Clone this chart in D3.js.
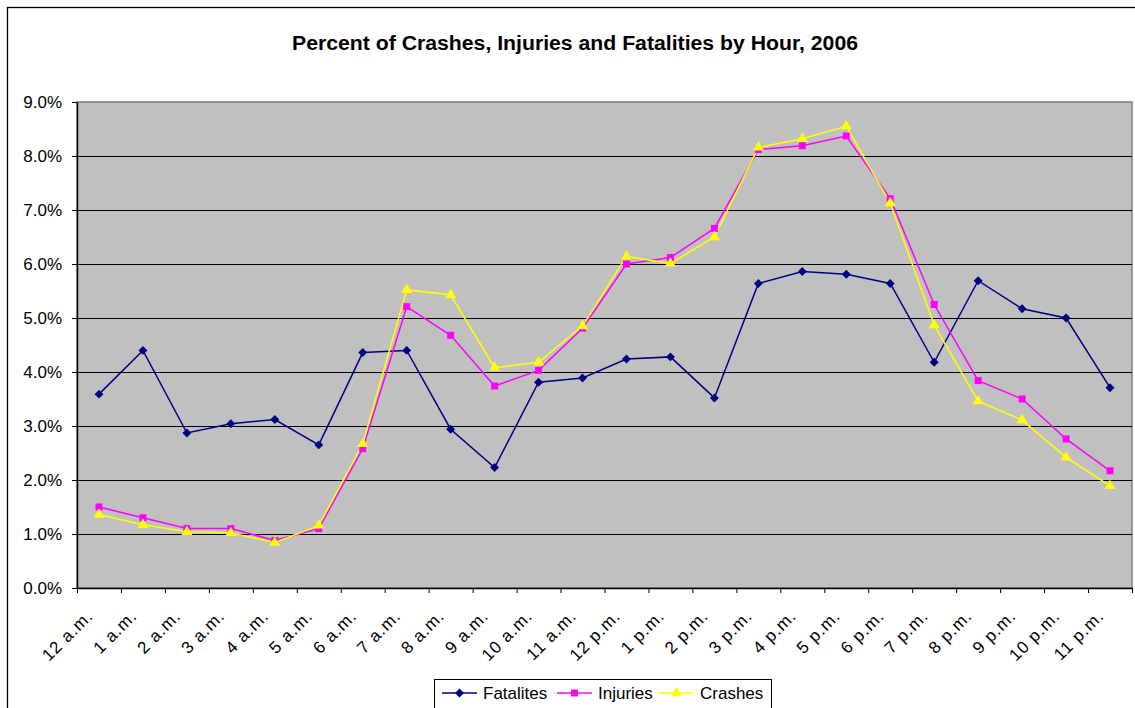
<!DOCTYPE html>
<html>
<head>
<meta charset="utf-8">
<script src="https://cdn.jsdelivr.net/npm/d3@7"></script>
<style>
  body { margin: 0; background: #fff; }
  svg { display: block; font-family: "Liberation Sans", Arial, sans-serif; }
</style>
</head>
<body>
<svg class="chart"></svg>
<script>
// Data (percent of daily total per hour)
var hours = ["12 a.m.", "1 a.m.", "2 a.m.", "3 a.m.", "4 a.m.", "5 a.m.", "6 a.m.", "7 a.m.",
             "8 a.m.", "9 a.m.", "10 a.m.", "11 a.m.", "12 p.m.", "1 p.m.", "2 p.m.", "3 p.m.",
             "4 p.m.", "5 p.m.", "6 p.m.", "7 p.m.", "8 p.m.", "9 p.m.", "10 p.m.", "11 p.m."];

var fatalities = [3.59, 4.40, 2.87, 3.04, 3.12, 2.65, 4.36, 4.40, 2.94, 2.23, 3.81, 3.89,
                  4.24, 4.28, 3.52, 5.64, 5.86, 5.81, 5.64, 4.18, 5.69, 5.17, 5.00, 3.71];
var injuries   = [1.50, 1.30, 1.10, 1.10, 0.88, 1.10, 2.58, 5.21, 4.68, 3.74, 4.03, 4.81,
                  6.00, 6.12, 6.66, 8.12, 8.19, 8.37, 7.21, 5.25, 3.84, 3.50, 2.76, 2.17];
var crashes    = [1.36, 1.17, 1.04, 1.02, 0.84, 1.16, 2.67, 5.52, 5.43, 4.08, 4.18, 4.85,
                  6.14, 6.01, 6.50, 8.16, 8.32, 8.55, 7.13, 4.87, 3.46, 3.11, 2.42, 1.89];

var yTicks = [0, 1, 2, 3, 4, 5, 6, 7, 8, 9];

var seriesNames = ["Fatalites", "Injuries", "Crashes"];

// diamond = square turned 45 degrees
var series = [
    { label: seriesNames[0], values: fatalities, color: "#000080", marker: d3.symbolSquare,  size: 40, rot: 45 },
    { label: seriesNames[1], values: injuries,   color: "#FF00FF", marker: d3.symbolSquare,  size: 49, rot: 0 },
    { label: seriesNames[2], values: crashes,    color: "#FFFF00", marker: d3.symbolTriangle, size: 52, rot: 0 }
];

var width = 1135, height = 708;
var plotLeft = 77, plotRight = 1132, plotTop = 102, plotBottom = 588;

var chart = d3.select(".chart")
    .attr("width", width)
    .attr("height", height);

// Chart area border (right and bottom fall outside the picture)
chart.append("rect")
    .attr("x", 7.5).attr("y", 7.5)
    .attr("width", width).attr("height", height)
    .attr("fill", "#fff")
    .attr("stroke", "#000")
    .attr("stroke-width", 1.3);

// Title
chart.append("text")
    .attr("x", 575)
    .attr("y", 50)
    .attr("text-anchor", "middle")
    .attr("textLength", 566)
    .attr("lengthAdjust", "spacingAndGlyphs")
    .style("font-size", "20px")
    .style("font-weight", "bold")
    .text("Percent of Crashes, Injuries and Fatalities by Hour, 2006");

var x = d3.scaleBand()
    .domain(hours)
    .range([plotLeft, plotRight]);

var xEdge = d3.scaleLinear()
    .domain([0, hours.length])
    .range([plotLeft, plotRight]);

var y = d3.scaleLinear()
    .domain([0, 9])
    .range([plotBottom, plotTop]);

// Plot area
chart.append("rect")
    .attr("x", plotLeft)
    .attr("y", plotTop)
    .attr("width", plotRight - plotLeft)
    .attr("height", plotBottom - plotTop)
    .attr("fill", "#C0C0C0")
    .attr("stroke", "#808080")
    .attr("stroke-width", 1.5);

// Gridlines
chart.append("g")
    .attr("class", "grid")
    .attr("transform", "translate(" + plotLeft + ",0)")
    .call(d3.axisLeft(y)
        .tickValues(yTicks.slice(1, yTicks.length - 1))
        .tickSize(-(plotRight - plotLeft))
        .tickFormat(""))
    .call(function(g) { g.select(".domain").remove(); })
    .selectAll("line")
    .attr("stroke", "#000")
    .attr("stroke-width", 1);

// Y axis
var yAxisG = chart.append("g")
    .attr("class", "y axis")
    .attr("transform", "translate(" + plotLeft + ",0)")
    .call(d3.axisLeft(y)
        .tickValues(yTicks)
        .tickSize(5)
        .tickSizeOuter(0)
        .tickPadding(10)
        .tickFormat(function(d) { return d.toFixed(1) + "%"; }));

yAxisG.selectAll("text")
    .style("font-size", "17px")
    .attr("fill", "#000");

// X axis (ticks between categories)
chart.append("g")
    .attr("class", "x axis")
    .attr("transform", "translate(0," + plotBottom + ")")
    .call(d3.axisBottom(xEdge)
        .tickValues(d3.range(hours.length + 1))
        .tickSize(5)
        .tickSizeOuter(0)
        .tickFormat(""));

chart.selectAll(".axis .domain").attr("stroke", "#000").attr("stroke-width", 1.5);
chart.selectAll(".axis .tick line").attr("stroke", "#000");

// Rotated category labels
chart.append("g")
    .selectAll("text")
    .data(hours)
    .enter().append("text")
    .attr("text-anchor", "end")
    .style("font-size", "17px")
    .style("letter-spacing", "1px")
    .attr("transform", function(d) {
        var cx = x(d) + x.bandwidth() / 2;
        return "translate(" + (cx - 5) + "," + 617 + ") rotate(-45)";
    })
    .text(function(d) { return d; });

// Lines and markers
var line = d3.line()
    .x(function(d, i) { return x(hours[i]) + x.bandwidth() / 2; })
    .y(function(d) { return y(d); });

series.forEach(function(s) {
    chart.append("path")
        .datum(s.values)
        .attr("fill", "none")
        .attr("stroke", s.color)
        .attr("stroke-width", 1.5)
        .attr("d", line);
});

series.forEach(function(s) {
    chart.append("g")
        .selectAll("path")
        .data(s.values)
        .enter().append("path")
        .attr("transform", function(d, i) {
            return "translate(" + (x(hours[i]) + x.bandwidth() / 2) + "," + y(d) + ") rotate(" + s.rot + ")";
        })
        .attr("d", d3.symbol().type(s.marker).size(s.size))
        .attr("fill", s.color);
});

// Legend
var legendX = 434, legendY = 679;
chart.append("rect")
    .attr("x", legendX + 0.5)
    .attr("y", legendY + 0.5)
    .attr("width", 337)
    .attr("height", 60)
    .attr("fill", "#fff")
    .attr("stroke", "#000")
    .attr("stroke-width", 1);

var legendOffsets = [8, 123, 225];

var legend = chart.selectAll(".legend")
    .data(series)
    .enter()
    .append("g")
    .attr("class", "legend")
    .attr("transform", function(d, i) {
        return "translate(" + (legendX + legendOffsets[i]) + "," + (legendY + 14) + ")";
    });

legend.append("line")
    .attr("x1", 0).attr("x2", 35)
    .attr("y1", 0).attr("y2", 0)
    .attr("stroke", function(d) { return d.color; })
    .attr("stroke-width", 1.5);

legend.append("path")
    .attr("transform", function(d) { return "translate(17.5,0) rotate(" + d.rot + ")"; })
    .attr("d", function(d) { return d3.symbol().type(d.marker).size(d.size)(); })
    .attr("fill", function(d) { return d.color; });

legend.append("text")
    .attr("x", 41)
    .attr("y", 6)
    .style("font-size", "17px")
    .text(function(d) { return d.label; });
</script>
</body>
</html>
